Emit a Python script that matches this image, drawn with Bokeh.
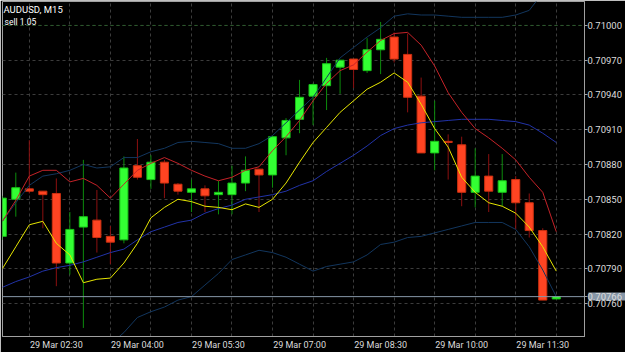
from bokeh.plotting import figure
from bokeh.models import (Range1d, FixedTicker, PrintfTickFormatter, Span, Label,
                          ColumnDataSource, LinearAxis)
from bokeh.embed import file_html
from bokeh.resources import INLINE

# ---------------- data ----------------
symbol_text = "AUDUSD, M15"
order_text = "sell 1.05"
order_price = 0.71000
bid_price = 0.70766

opens = [0.70818, 0.70850, 0.70859, 0.70857, 0.70855, 0.70795, 0.70826, 0.70832, 0.70818, 0.70815,
         0.70879, 0.70867, 0.70882, 0.70863, 0.70856, 0.70859, 0.70854, 0.70854, 0.70864, 0.70876,
         0.70871, 0.70903, 0.70919, 0.70939, 0.70948, 0.70964, 0.70971, 0.70961, 0.70979, 0.70990,
         0.70975, 0.70939, 0.70890, 0.70900, 0.70897, 0.70856, 0.70870, 0.70856, 0.70867, 0.70847,
         0.70823, 0.70764]
highs = [0.70853, 0.70873, 0.70901, 0.70857, 0.70868, 0.70839, 0.70884, 0.70858, 0.70827, 0.70887,
         0.70902, 0.70888, 0.70884, 0.70864, 0.70867, 0.70862, 0.70866, 0.70879, 0.70887, 0.70876,
         0.70904, 0.70920, 0.70953, 0.70950, 0.70972, 0.70970, 0.70971, 0.70989, 0.71003, 0.70994,
         0.70993, 0.70955, 0.70935, 0.70906, 0.70904, 0.70894, 0.70889, 0.70889, 0.70870, 0.70855,
         0.70825, 0.70766]
lows = [0.70815, 0.70835, 0.70855, 0.70825, 0.70775, 0.70785, 0.70739, 0.70804, 0.70794, 0.70812,
        0.70867, 0.70859, 0.70851, 0.70854, 0.70839, 0.70839, 0.70837, 0.70837, 0.70857, 0.70839,
        0.70860, 0.70888, 0.70907, 0.70914, 0.70927, 0.70941, 0.70946, 0.70959, 0.70958, 0.70968,
        0.70925, 0.70890, 0.70875, 0.70867, 0.70844, 0.70843, 0.70839, 0.70844, 0.70824, 0.70817,
        0.70763, 0.70764]
closes = [0.70851, 0.70860, 0.70857, 0.70854, 0.70795, 0.70824, 0.70835, 0.70817, 0.70813, 0.70877,
          0.70869, 0.70882, 0.70864, 0.70857, 0.70859, 0.70853, 0.70856, 0.70864, 0.70875, 0.70871,
          0.70904, 0.70918, 0.70938, 0.70949, 0.70967, 0.70970, 0.70962, 0.70979, 0.70988, 0.70971,
          0.70938, 0.70890, 0.70900, 0.70899, 0.70856, 0.70870, 0.70857, 0.70866, 0.70847, 0.70823,
          0.70763, 0.70766]

red_ma = [0.70831, 0.70849, 0.70870, 0.70875, 0.70875, 0.70865, 0.70868, 0.70862, 0.70851, 0.70863,
          0.70875, 0.70881, 0.70886, 0.70881, 0.70875, 0.70870, 0.70866, 0.70869, 0.70875, 0.70878,
          0.70892, 0.70904, 0.70918, 0.70935, 0.70950, 0.70961, 0.70966, 0.70977, 0.70987, 0.70993,
          0.70994, 0.70983, 0.70965, 0.70942, 0.70925, 0.70911, 0.70903, 0.70894, 0.70884, 0.70869,
          0.70856, 0.70822]
yellow_ma = [0.70790, 0.70809, 0.70828, 0.70831, 0.70812, 0.70802, 0.70778, 0.70781, 0.70782, 0.70795,
             0.70812, 0.70834, 0.70843, 0.70850, 0.70848, 0.70844, 0.70843, 0.70841, 0.70846, 0.70843,
             0.70850, 0.70864, 0.70882, 0.70899, 0.70912, 0.70925, 0.70935, 0.70945, 0.70951, 0.70959,
             0.70951, 0.70932, 0.70911, 0.70895, 0.70869, 0.70856, 0.70847, 0.70844, 0.70838, 0.70826,
             0.70809, 0.70788]
navy_ma = [0.70774, 0.70779, 0.70783, 0.70788, 0.70791, 0.70793, 0.70796, 0.70800, 0.70804, 0.70807,
           0.70815, 0.70822, 0.70826, 0.70830, 0.70832, 0.70838, 0.70842, 0.70845, 0.70850, 0.70852,
           0.70854, 0.70857, 0.70862, 0.70866, 0.70874, 0.70881, 0.70888, 0.70896, 0.70905, 0.70911,
           0.70914, 0.70916, 0.70917, 0.70918, 0.70919, 0.70919, 0.70919, 0.70918, 0.70917, 0.70914,
           0.70907, 0.70899]
band_upper = [0.70831, 0.70847, 0.70862, 0.70870, 0.70872, 0.70875, 0.70880, 0.70877, 0.70878, 0.70886,
              0.70886, 0.70891, 0.70894, 0.70899, 0.70900, 0.70899, 0.70898, 0.70894, 0.70894, 0.70898,
              0.70905, 0.70916, 0.70927, 0.70938, 0.70955, 0.70972, 0.70981, 0.70990, 0.70998, 0.71008,
              0.71010, 0.71009, 0.71009, 0.71008, 0.71007, 0.71007, 0.71007, 0.71007, 0.71009, 0.71013,
              0.71028, 0.71043]
band_lower = [0.70712, 0.70708, 0.70703, 0.70703, 0.70702, 0.70703, 0.70710, 0.70716, 0.70725, 0.70735,
              0.70748, 0.70753, 0.70757, 0.70763, 0.70766, 0.70776, 0.70786, 0.70798, 0.70802, 0.70806,
              0.70804, 0.70800, 0.70794, 0.70788, 0.70792, 0.70794, 0.70796, 0.70802, 0.70811, 0.70813,
              0.70817, 0.70818, 0.70821, 0.70824, 0.70827, 0.70830, 0.70830, 0.70830, 0.70824, 0.70809,
              0.70789, 0.70766]

x_label_bars = [2, 8, 14, 20, 26, 32, 38]
x_labels = ["29 Mar 02:30", "29 Mar 04:00", "29 Mar 05:30", "29 Mar 07:00",
            "29 Mar 08:30", "29 Mar 10:00", "29 Mar 11:30"]
y_ticks = [0.70760, 0.70790, 0.70820, 0.70850, 0.70880, 0.70910, 0.70940, 0.70970, 0.71000]

# ---------------- styling ----------------
FONT = "Roboto"
AXIS_COL = "#a0a0a0"
TEXT_COL = "#dcdcdc"
GRID_COL = "#3c3c3c"
BID_COL = "#8797a8"
X_START, X_END = 0.015, 43.09
Y_START, Y_END = 0.707316, 0.7102065

n = len(opens)
idx = list(range(n))
up = [c >= o for o, c in zip(opens, closes)]

src = ColumnDataSource(dict(
    x=idx, high=highs, low=lows,
    top=[max(o, c) for o, c in zip(opens, closes)],
    bottom=[min(o, c) for o, c in zip(opens, closes)],
    fill=["#33ff33" if u else "#ff4422" for u in up],
    edge=["#18c018" if u else "#cc3010" for u in up],
    wick=["#0c8c0c" if u else "#8c1010" for u in up],
))

p = figure(width=625, height=352, output_backend="svg", toolbar_location=None,
           x_range=Range1d(X_START, X_END), y_range=Range1d(Y_START, Y_END),
           y_axis_location="right",
           min_border_left=2, min_border_right=38, min_border_top=1, min_border_bottom=15,
           background_fill_color="#000000", border_fill_color="#000000",
           outline_line_color=AXIS_COL)

# x axis
p.xaxis.ticker = FixedTicker(ticks=[b + 2 for b in x_label_bars])
p.xaxis.major_label_overrides = {b + 2: lab for b, lab in zip(x_label_bars, x_labels)}
p.xaxis.major_tick_line_color = None
p.xaxis.minor_tick_line_color = None
p.xaxis.major_tick_out = 0
p.xaxis.major_tick_in = 0
p.xaxis.minor_tick_out = 0
p.xaxis.axis_line_color = AXIS_COL
p.xaxis.major_label_standoff = 3
p.xaxis.major_label_text_font = FONT
p.xaxis.major_label_text_font_size = "9px"
p.xaxis.major_label_text_color = TEXT_COL

# price axis (bid price included as a tick), drawn above the bid box
price_axis = p.yaxis[0]
price_axis.ticker = FixedTicker(ticks=y_ticks + [bid_price])
price_axis.formatter = PrintfTickFormatter(format="%.5f")
price_axis.major_tick_out = 3
price_axis.major_tick_in = 0
price_axis.minor_tick_out = 0
price_axis.major_tick_line_color = AXIS_COL
price_axis.minor_tick_line_color = None
price_axis.axis_line_color = AXIS_COL
price_axis.major_label_standoff = 0
price_axis.major_label_text_font = FONT
price_axis.major_label_text_font_size = "9.5px"
price_axis.major_label_text_color = TEXT_COL
price_axis.level = "overlay"

# bid-price box: a zero-size axis outside the price axis whose single inward tick
# forms the label background
bid_axis = LinearAxis(ticker=FixedTicker(ticks=[bid_price]),
                      major_label_overrides={bid_price: ""},
                      major_tick_out=0, major_tick_in=37, minor_tick_out=0, minor_tick_in=0,
                      major_tick_line_color=BID_COL, major_tick_line_width=8,
                      major_tick_line_cap="butt",
                      minor_tick_line_color=None, axis_line_color=None,
                      major_label_standoff=0, major_label_text_font_size="9.5px")
p.right = list(p.right) + [bid_axis]

# grid
p.xgrid.ticker = FixedTicker(ticks=list(range(2, n, 3)))
p.ygrid.ticker = FixedTicker(ticks=y_ticks)
p.grid.grid_line_color = GRID_COL
p.grid.grid_line_dash = "3 3"
p.grid.grid_line_width = 1

# candles
p.segment(x0="x", y0="high", x1="x", y1="low", line_color="wick", line_width=1, source=src)
p.vbar(x="x", width=0.6, top="top", bottom="bottom", fill_color="fill",
       line_color="edge", line_width=1, source=src)

# indicators
p.line(idx, band_upper, line_color="#12365e", line_width=1)
p.line(idx, band_lower, line_color="#12365e", line_width=1)
p.line(idx, navy_ma, line_color="#2233a8", line_width=1)
p.line(idx, red_ma, line_color="#c42228", line_width=1)
p.line(idx, yellow_ma, line_color="#e6e600", line_width=1)

# open sell order level and bid line
p.add_layout(Span(location=order_price, dimension="width", line_color="#2a5a2a",
                  line_width=1, line_dash="3 3"))
p.add_layout(Span(location=bid_price, dimension="width", line_color=BID_COL, line_width=1))

# title texts
p.add_layout(Label(x=X_START, y=Y_END, text=symbol_text, x_offset=1, y_offset=-2,
                   text_align="left", text_baseline="top",
                   text_font=FONT, text_font_size="9.5px", text_color="#ffffff"))
p.add_layout(Label(x=X_START, y=Y_END, text=order_text, x_offset=2, y_offset=-15,
                   text_align="left", text_baseline="top",
                   text_font=FONT, text_font_size="8.5px", text_color="#ffffff"))

open("out.html", "w").write(file_html(p, INLINE))
